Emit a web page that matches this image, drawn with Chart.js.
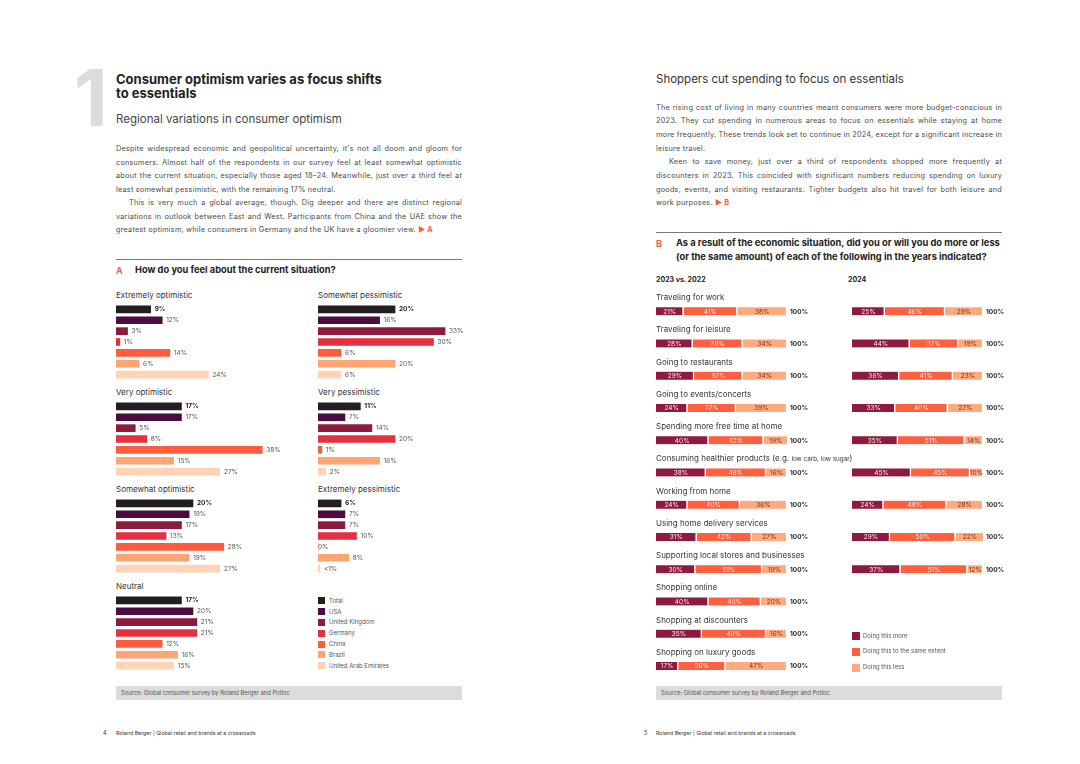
<!DOCTYPE html>
<html>
<head>
<meta charset="utf-8">
<script src="https://cdn.jsdelivr.net/npm/chart.js@4.4.1/dist/chart.umd.min.js"></script>
<style>
body { margin: 0; width: 1080px; height: 764px; background: #fff; position: relative; overflow: hidden; font-family: Inter, "Noto Sans", sans-serif; color: #333; }
.t { position: absolute; white-space: nowrap; line-height: 1; transform: translateY(-50%); }
.p { font-size: 7.3px; color: #4a4a4a; letter-spacing: 0.22px; }
canvas { position: absolute; }
.box { position: absolute; background: #dcdcdc; height: 14px; }
.sq { position: absolute; width: 7px; height: 7px; }
</style>
</head>
<body>
<!-- left page -->
<div class="t" style="left:74px;top:98px;font-size:78px;font-weight:700;color:#dcdcdf;">1</div>
<div class="t" style="left:116px;top:78.5px;font-size:13px;font-weight:700;color:#222;">Consumer optimism varies as focus shifts</div>
<div class="t" style="left:116px;top:92.5px;font-size:13px;font-weight:700;color:#222;">to essentials</div>
<div class="t" style="left:116px;top:120px;font-size:11.5px;color:#444;">Regional variations in consumer optimism</div>
<div style="position:absolute;left:116px;top:258.5px;width:346px;height:1px;background:#777;"></div>
<div class="t" style="left:116px;top:270px;font-size:9px;font-weight:700;color:#ff5a3c;">A</div>
<div class="t" style="left:135px;top:270px;font-size:9.3px;font-weight:700;color:#222;">How do you feel about the current situation?</div>
<div class="box" style="left:116px;top:686px;width:346px;"></div>
<div class="t" style="left:121px;top:693px;font-size:5.8px;color:#555;">Source: Global consumer survey by Roland Berger and Potloc</div>
<div class="t" style="left:103px;top:734px;font-size:5.5px;color:#333;">4</div>
<div class="t" style="left:116px;top:734px;font-size:5.3px;color:#333;">Roland Berger | Global retail and brands at a crossroads</div>

<!-- right page -->
<div class="t" style="left:656px;top:79.5px;font-size:11.5px;color:#333;">Shoppers cut spending to focus on essentials</div>
<div style="position:absolute;left:656px;top:231.8px;width:346px;height:1px;background:#777;"></div>
<div class="t" style="left:656px;top:243px;font-size:9px;font-weight:700;color:#ff5a3c;">B</div>
<div class="t" style="left:676px;top:243px;font-size:9.3px;font-weight:700;color:#222;">As a result of the economic situation, did you or will you do more or less</div>
<div class="t" style="left:676px;top:256.7px;font-size:9.3px;font-weight:700;color:#222;">(or the same amount) of each of the following in the years indicated?</div>
<div class="t" style="left:656px;top:279px;font-size:7px;font-weight:700;color:#222;">2023 vs. 2022</div>
<div class="t" style="left:848px;top:279px;font-size:7px;font-weight:700;color:#222;">2024</div>
<div class="box" style="left:656px;top:686px;width:346px;"></div>
<div class="t" style="left:661px;top:693px;font-size:5.8px;color:#555;">Source: Global consumer survey by Roland Berger and Potloc</div>
<div class="t" style="left:644px;top:734px;font-size:5.5px;color:#333;">5</div>
<div class="t" style="left:656px;top:734px;font-size:5.3px;color:#333;">Roland Berger | Global retail and brands at a crossroads</div>

<canvas id="eo" width="190" height="76" style="left:116px;top:304px;"></canvas>
<canvas id="vo" width="190" height="76" style="left:116px;top:401px;"></canvas>
<canvas id="so" width="190" height="76" style="left:116px;top:498px;"></canvas>
<canvas id="ne" width="190" height="76" style="left:116px;top:595px;"></canvas>
<canvas id="sp" width="190" height="76" style="left:318px;top:304px;"></canvas>
<canvas id="vp" width="190" height="76" style="left:318px;top:401px;"></canvas>
<canvas id="ep" width="190" height="76" style="left:318px;top:498px;"></canvas>
<canvas id="y2023" width="356" height="397" style="left:656px;top:285px;"></canvas>
<canvas id="y2024" width="160" height="397" style="left:852px;top:285px;"></canvas>

<script>
// survey A: share of respondents per country
const countries = ['Total', 'USA', 'United Kingdom', 'Germany', 'China', 'Brazil', 'United Arab Emirates'];
const countryColors = ['#231f20', '#4b0d3f', '#8c1c3e', '#e3313f', '#ff5c3d', '#ffa574', '#ffd3b6'];
const extremelyOptimistic = [9, 12, 3, 1, 14, 6, 24];
const veryOptimistic = [17, 17, 5, 8, 38, 15, 27];
const somewhatOptimistic = [20, 19, 17, 13, 28, 19, 27];
const neutral = [17, 20, 21, 21, 12, 16, 15];
const somewhatPessimistic = [20, 16, 33, 30, 6, 20, 6];
const veryPessimistic = [11, 7, 14, 20, 1, 16, 2];
const extremelyPessimistic = [6, 7, 7, 10, 0, 8, 0.5];

// survey B
const activities = ['Traveling for work', 'Traveling for leisure', 'Going to restaurants', 'Going to events/concerts',
  'Spending more free time at home', 'Consuming healthier products (e.g. low carb, low sugar)', 'Working from home',
  'Using home delivery services', 'Supporting local stores and businesses', 'Shopping online',
  'Shopping at discounters', 'Shopping on luxury goods'];
const answers = ['Doing this more', 'Doing this to the same extent', 'Doing this less'];
const answerColors = ['#8e1a3d', '#ff5e3f', '#ffa97f'];
const doingMore2023 = [21, 28, 29, 24, 40, 38, 24, 31, 30, 40, 35, 17];
const sameExtent2023 = [41, 38, 37, 37, 42, 46, 40, 42, 51, 40, 49, 36];
const doingLess2023 = [38, 34, 34, 39, 19, 16, 36, 27, 19, 20, 16, 47];
const doingMore2024 = [25, 44, 36, 33, 35, 45, 24, 29, 37];
const sameExtent2024 = [46, 37, 41, 40, 51, 45, 48, 50, 51];
const doingLess2024 = [29, 19, 23, 27, 14, 10, 28, 22, 12];

Chart.defaults.font.family = 'Inter, "Noto Sans", sans-serif';

function txt(x, y, s, style) {
  const d = document.createElement('div');
  d.className = 't';
  d.style.left = x + 'px';
  d.style.top = y + 'px';
  d.innerHTML = s;
  Object.assign(d.style, style || {});
  document.body.appendChild(d);
  return d;
}

// paragraphs, line by line, stretched to the column width
function para(x, y0, step, lines, indent) {
  lines.forEach((l, i) => {
    const left = x + (i === indent ? 13 : 0);
    const d = txt(left, y0 + i * step, l.s, {});
    d.classList.add('p');
    if (l.j) {
      const w = d.getBoundingClientRect().width;
      const n = (d.textContent.match(/ /g) || []).length;
      d.style.wordSpacing = ((346 - (left - x) - w) / n) + 'px';
    }
  });
}
para(116, 149.3, 13.45, [
  { s: "Despite widespread economic and geopolitical uncertainty, it's not all doom and gloom for", j: 1 },
  { s: 'consumers. Almost half of the respondents in our survey feel at least somewhat optimistic', j: 1 },
  { s: 'about the current situation, especially those aged 18–24. Meanwhile, just over a third feel at', j: 1 },
  { s: 'least somewhat pessimistic, with the remaining 17% neutral.' },
  { s: 'This is very much a global average, though. Dig deeper and there are distinct regional', j: 1 },
  { s: 'variations in outlook between East and West. Participants from China and the UAE show the', j: 1 },
  { s: 'greatest optimism, while consumers in Germany and the UK have a gloomier view. <span style="color:#ff5a3c;font-weight:700">▶ A</span>' }
], 4);
para(656, 107.7, 13.65, [
  { s: 'The rising cost of living in many countries meant consumers were more budget-conscious in', j: 1 },
  { s: '2023. They cut spending in numerous areas to focus on essentials while staying at home', j: 1 },
  { s: 'more frequently. These trends look set to continue in 2024, except for a significant increase in', j: 1 },
  { s: 'leisure travel.' },
  { s: 'Keen to save money, just over a third of respondents shopped more frequently at', j: 1 },
  { s: 'discounters in 2023. This coincided with significant numbers reducing spending on luxury', j: 1 },
  { s: 'goods, events, and visiting restaurants. Tighter budgets also hit travel for both leisure and', j: 1 },
  { s: 'work purposes. <span style="color:#ff5a3c;font-weight:700">▶ B</span>' }
], 4);

// value labels at the end of each country bar
const endLabels = {
  id: 'endLabels',
  afterDatasetsDraw(chart) {
    const ctx = chart.ctx;
    const ds = chart.data.datasets[0];
    chart.getDatasetMeta(0).data.forEach((bar, i) => {
      const v = ds.data[i];
      ctx.save();
      ctx.font = (i === 0 ? '700 ' : '400 ') + '6.5px Inter';
      ctx.fillStyle = i === 0 ? '#222' : '#555';
      ctx.textBaseline = 'middle';
      const x = v === 0 ? chart.chartArea.left : bar.x + 4;
      ctx.fillText((v > 0 && v < 1 ? '<1' : v) + '%', x, bar.y);
      ctx.restore();
    });
  }
};

function optimismChart(id, title, values) {
  const c = document.getElementById(id);
  txt(parseFloat(c.style.left), parseFloat(c.style.top) - 9, title, { fontSize: '8px', color: '#333' });
  new Chart(c, {
    type: 'bar',
    data: {
      labels: countries,
      datasets: [{ data: values, backgroundColor: countryColors, barThickness: 7 }]
    },
    options: {
      indexAxis: 'y',
      responsive: false,
      animation: false,
      layout: { padding: { right: 36 } },
      scales: {
        x: { display: false, min: 0, max: 40 },
        y: { display: false }
      },
      plugins: { legend: { display: false }, tooltip: { enabled: false } }
    },
    plugins: [endLabels]
  });
}
optimismChart('eo', 'Extremely optimistic', extremelyOptimistic);
optimismChart('vo', 'Very optimistic', veryOptimistic);
optimismChart('so', 'Somewhat optimistic', somewhatOptimistic);
optimismChart('ne', 'Neutral', neutral);
optimismChart('sp', 'Somewhat pessimistic', somewhatPessimistic);
optimismChart('vp', 'Very pessimistic', veryPessimistic);
optimismChart('ep', 'Extremely pessimistic', extremelyPessimistic);

// country legend
countries.forEach((name, i) => {
  const y = 600.7 + i * 10.85;
  const s = document.createElement('div');
  s.className = 'sq';
  s.style.left = '318px';
  s.style.top = (y - 3.5) + 'px';
  s.style.background = countryColors[i];
  document.body.appendChild(s);
  txt(329, y, name, { fontSize: '6px', color: '#555' });
});

// labels inside stacked segments, row titles and the 100% total
const segLabels = {
  id: 'segLabels',
  afterDatasetsDraw(chart, args, opts) {
    const ctx = chart.ctx;
    const xs = chart.scales.x;
    ctx.save();
    ctx.textBaseline = 'middle';
    chart.data.datasets.forEach((ds, d) => {
      chart.getDatasetMeta(d).data.forEach((bar, i) => {
        ctx.font = '400 6.5px Inter';
        ctx.textAlign = 'center';
        ctx.fillStyle = d === 2 ? '#7a3322' : '#ffe9e4';
        ctx.fillText(ds.data[i] + '%', (bar.x + bar.base) / 2, bar.y + 0.5);
        if (d === 2) {
          ctx.font = '700 6.5px Inter';
          ctx.textAlign = 'left';
          ctx.fillStyle = '#222';
          ctx.fillText('100%', xs.getPixelForValue(100) + 3, bar.y + 0.5);
        }
      });
    });
    if (opts.titles) {
      const ys = chart.scales.y;
      chart.data.labels.forEach((lab, i) => {
        const y = ys.getPixelForValue(i) - 13.5;
        let x = chart.chartArea.left;
        ctx.fillStyle = '#333';
        ctx.textAlign = 'left';
        const k = lab.indexOf('(e.g. ');
        const parts = k < 0 ? [[lab, 8]] : [[lab.slice(0, k + 6), 8], [lab.slice(k + 6, -1), 6.3], [')', 8]];
        parts.forEach(([s, size]) => {
          ctx.font = '400 ' + size + 'px Inter';
          ctx.fillText(s, x, y);
          x += ctx.measureText(s).width;
        });
      });
    }
    ctx.restore();
  }
};

function spendChart(id, more, same, less, padRight, titles) {
  new Chart(document.getElementById(id), {
    type: 'bar',
    data: {
      labels: activities,
      datasets: [
        { label: answers[0], data: more, backgroundColor: answerColors[0] },
        { label: answers[1], data: same, backgroundColor: answerColors[1] },
        { label: answers[2], data: less, backgroundColor: answerColors[2] }
      ]
    },
    options: {
      indexAxis: 'y',
      responsive: false,
      animation: false,
      datasets: { bar: { barThickness: 8, borderColor: '#fff', borderWidth: { right: 1.5 } } },
      layout: { padding: { top: 10, right: padRight } },
      scales: {
        x: { display: false, stacked: true, min: 0, max: 100 },
        y: { display: false, stacked: true }
      },
      plugins: { legend: { display: false }, tooltip: { enabled: false }, segLabels: { titles } }
    },
    plugins: [segLabels]
  });
}
spendChart('y2023', doingMore2023, sameExtent2023, doingLess2023, 225, true);
spendChart('y2024', doingMore2024, sameExtent2024, doingLess2024, 29, false);

// answer legend
answers.forEach((name, i) => {
  const y = 635.5 + i * 15.9;
  const s = document.createElement('div');
  s.className = 'sq';
  s.style.left = '852px';
  s.style.top = (y - 3.5) + 'px';
  s.style.width = '8px';
  s.style.height = '8px';
  s.style.background = answerColors[i];
  document.body.appendChild(s);
  txt(863, y, name, { fontSize: '6px', color: '#555' });
});
</script>
</body>
</html>
